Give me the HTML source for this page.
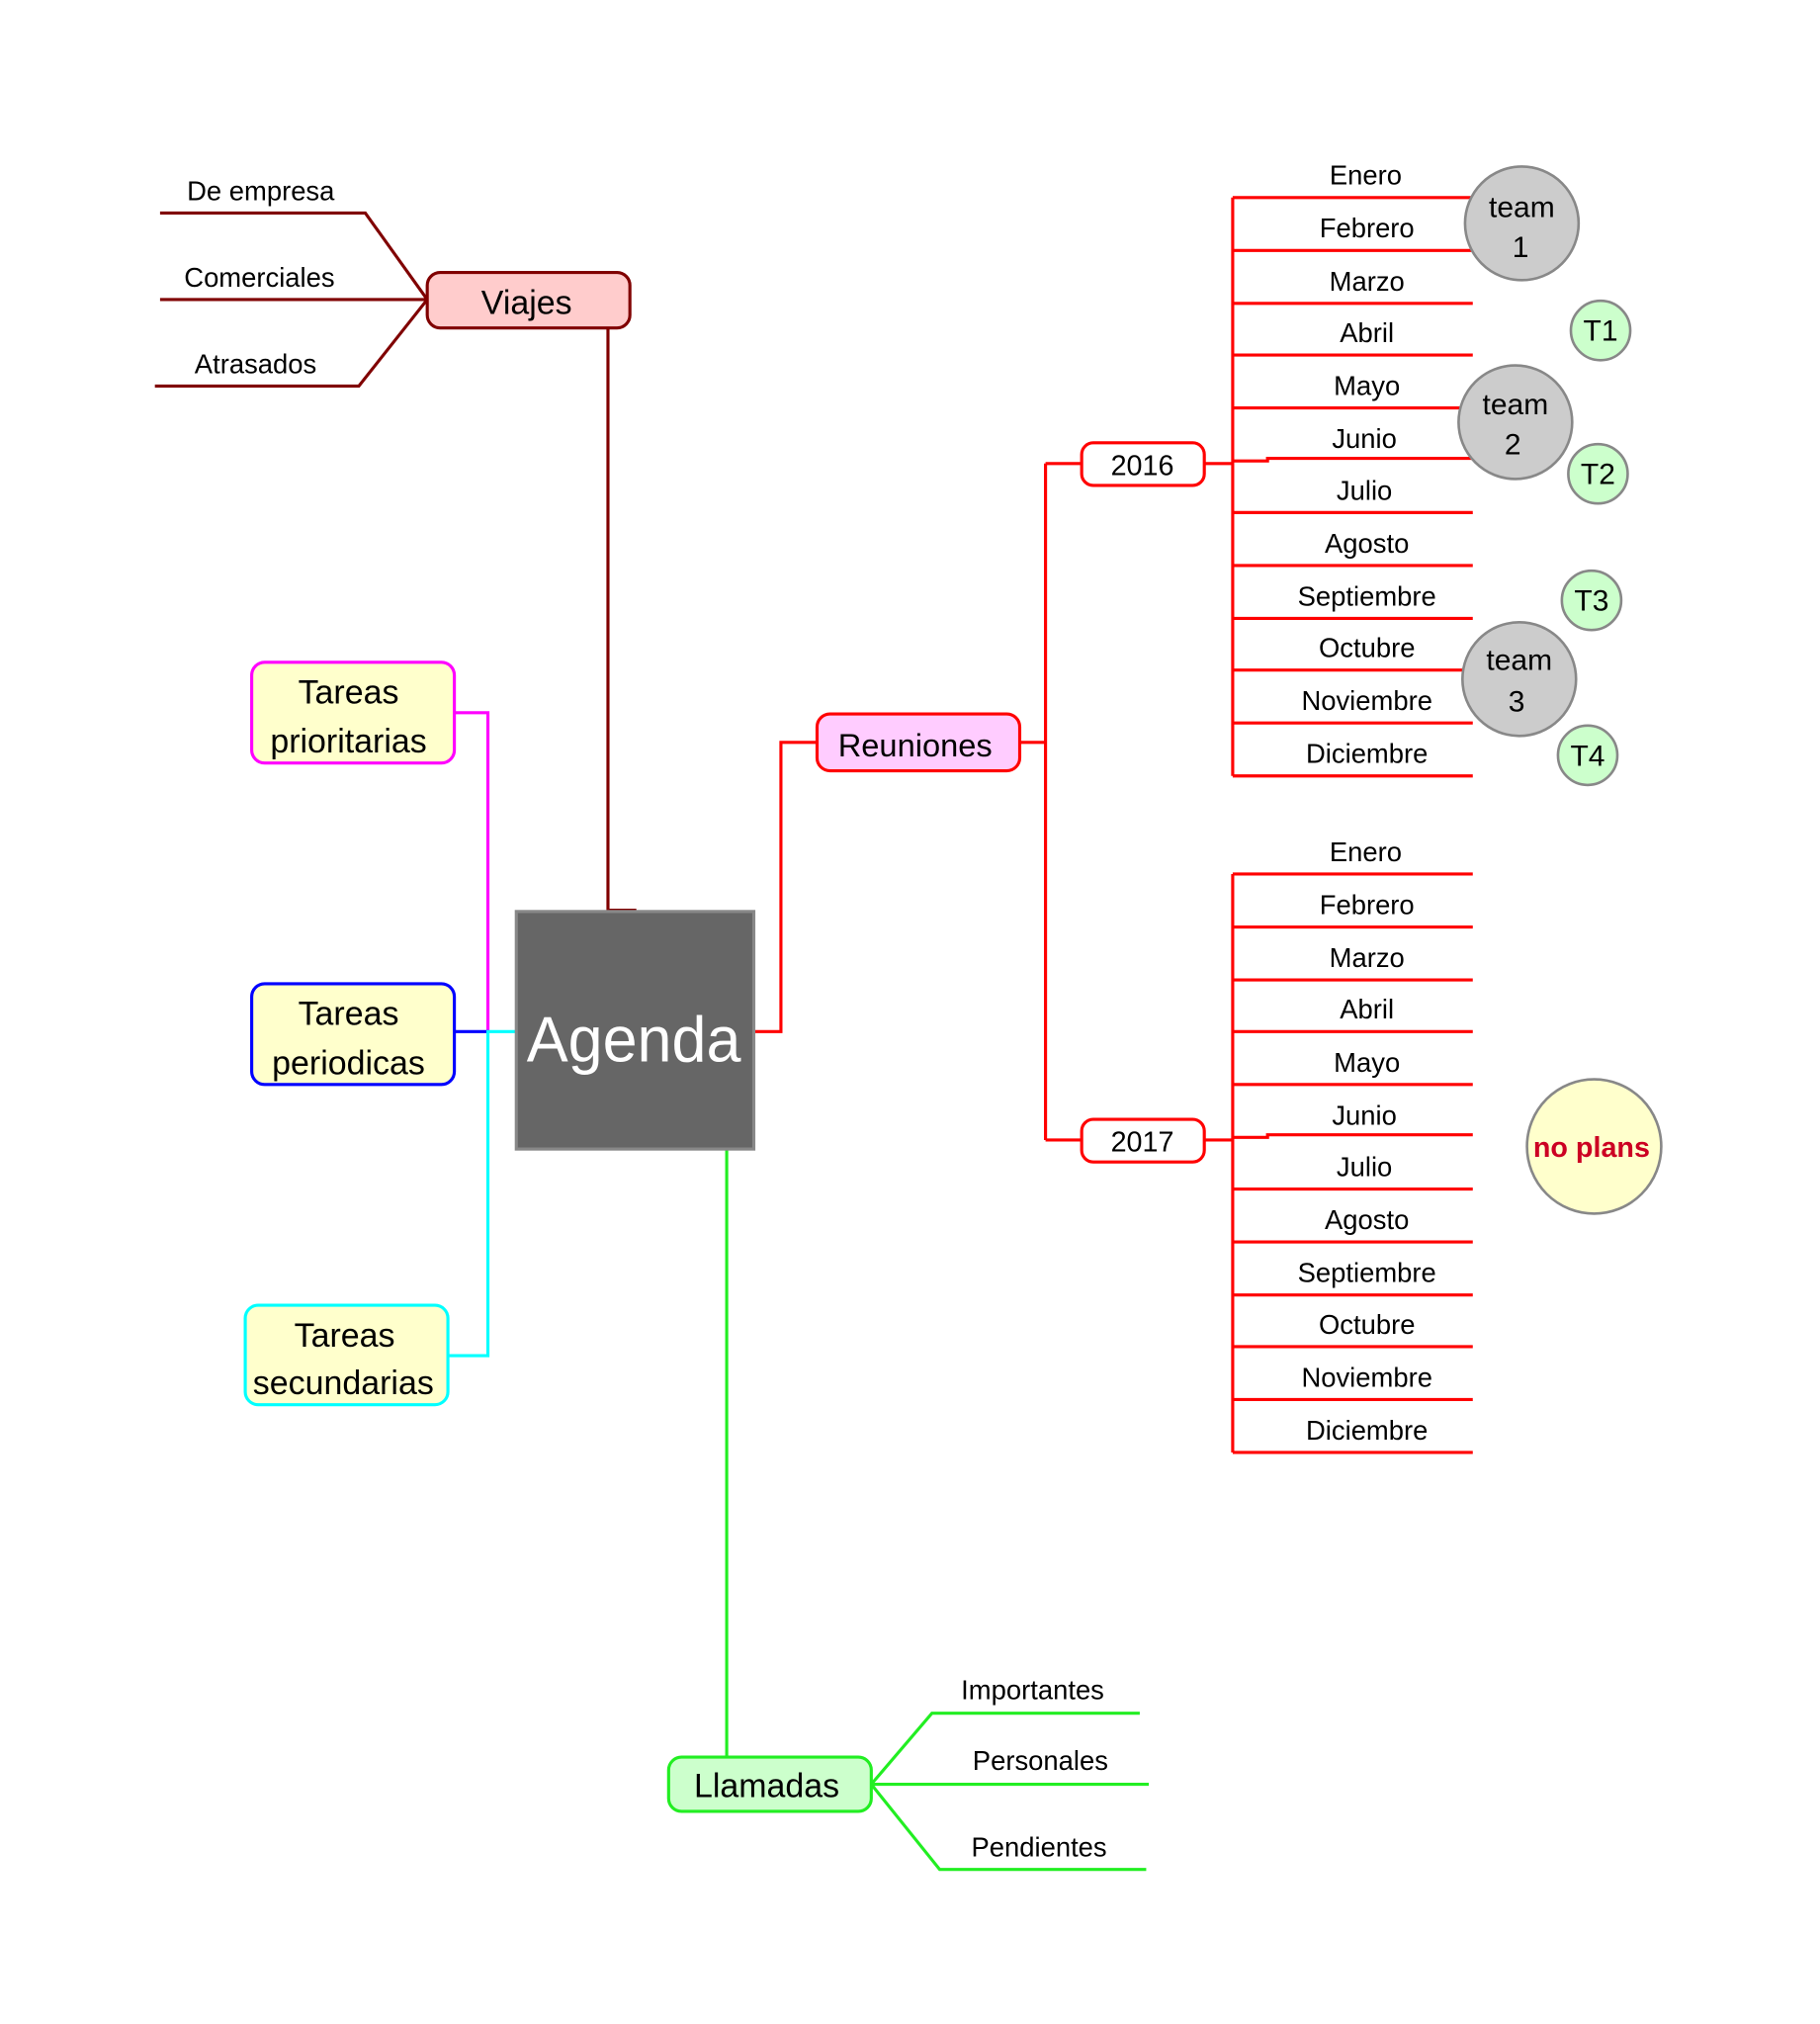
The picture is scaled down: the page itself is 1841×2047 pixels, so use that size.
<!DOCTYPE html>
<html><head><meta charset="utf-8"><style>
html,body{margin:0;padding:0;background:#fff;}
svg{display:block;}
text{font-family:"Liberation Sans",sans-serif;fill:#000;}
</style></head><body>
<svg width="1841" height="2047" viewBox="0 0 1410 1567.7" preserveAspectRatio="none" xmlns="http://www.w3.org/2000/svg">
<g fill="none" stroke-width="2.4">
<g stroke="#800000">
<path d="M124 165H283L331 232M124 232H331M120 299H278L331 232"/>
<path d="M471 254V705H493"/>
</g>
<rect x="331" y="211" width="157" height="43" rx="10" fill="#ffcccc" stroke="#800000"/>
<g stroke="#ff0000">
<path d="M584 799H605V575H633"/>
<path d="M790 575H810M810 359V883M810 359H838M810 883H838"/>
<path d="M933 359H955M933 883H955"/>
<path d="M955 153V601M955 677V1125"/>
<path d="M955 153H1141M955 194H1141M955 235H1141M955 275H1141M955 316H1141M955 357H982V355H1141M955 397H1141M955 438H1141M955 479H1141M955 519H1141M955 560H1141M955 601H1141"/>
<path d="M955 677H1141M955 718H1141M955 759H1141M955 799H1141M955 840H1141M955 881H982V879H1141M955 921H1141M955 962H1141M955 1003H1141M955 1043H1141M955 1084H1141M955 1125H1141"/>
</g>
<rect x="633" y="553" width="157" height="44" rx="10" fill="#ffccff" stroke="#ff0000"/>
<rect x="838" y="343" width="95" height="33" rx="9" fill="#fff" stroke="#ff0000"/>
<rect x="838" y="867" width="95" height="33" rx="9" fill="#fff" stroke="#ff0000"/>
<path d="M352 552H378V799" stroke="#ff00ff"/>
<path d="M352 799H378" stroke="#0000ff"/>
<path d="M347 1050H378V799H400" stroke="#00ffff"/>
<rect x="195" y="513" width="157" height="78" rx="10" fill="#ffffcc" stroke="#ff00ff"/>
<rect x="195" y="762" width="157" height="78" rx="10" fill="#ffffcc" stroke="#0000ff"/>
<rect x="190" y="1011" width="157" height="77" rx="10" fill="#ffffcc" stroke="#00ffff"/>
<g stroke="#22ee22">
<path d="M563 890V1361"/>
<path d="M675 1382L722 1327H883M675 1382H890M675 1382L728 1448H888"/>
</g>
<rect x="518" y="1361" width="157" height="42" rx="10" fill="#ccffcc" stroke="#22ee22"/>
<rect x="400" y="706" width="184" height="184" fill="#666666" stroke="#888"/>
<g stroke="#888" stroke-width="2">
<circle cx="1179" cy="173" r="44" fill="#cccccc"/>
<circle cx="1174" cy="327" r="44" fill="#cccccc"/>
<circle cx="1177" cy="526" r="44" fill="#cccccc"/>
<circle cx="1240" cy="256" r="23" fill="#ccffcc"/>
<circle cx="1238" cy="367" r="23" fill="#ccffcc"/>
<circle cx="1233" cy="465" r="23" fill="#ccffcc"/>
<circle cx="1230" cy="585" r="23" fill="#ccffcc"/>
<circle cx="1235" cy="888" r="52" fill="#ffffcc"/>
</g>
</g>
<g text-anchor="middle">
<text x="202" y="155" font-size="21">De empresa</text>
<text x="201" y="222" font-size="21">Comerciales</text>
<text x="198" y="289" font-size="21">Atrasados</text>
<text x="408" y="243" font-size="26">Viajes</text>
<text x="709" y="586" font-size="25">Reuniones</text>
<text x="885" y="368" font-size="22">2016</text>
<text x="885" y="892" font-size="22">2017</text>
<text x="491" y="822" font-size="50" textLength="166" lengthAdjust="spacingAndGlyphs" style="fill:#fff">Agenda</text>
<text x="270" y="545" font-size="26">Tareas</text>
<text x="270" y="583" font-size="26">prioritarias</text>
<text x="270" y="794" font-size="26">Tareas</text>
<text x="270" y="832" font-size="26">periodicas</text>
<text x="267" y="1043" font-size="26">Tareas</text>
<text x="266" y="1080" font-size="26">secundarias</text>
<text x="594" y="1392" font-size="26">Llamadas</text>
<text x="800" y="1316" font-size="21">Importantes</text>
<text x="806" y="1371" font-size="21">Personales</text>
<text x="805" y="1438" font-size="21">Pendientes</text>
<g font-size="21">
<text x="1058" y="143">Enero</text>
<text x="1059" y="184">Febrero</text>
<text x="1059" y="225">Marzo</text>
<text x="1059" y="265">Abril</text>
<text x="1059" y="306">Mayo</text>
<text x="1057" y="347">Junio</text>
<text x="1057" y="387">Julio</text>
<text x="1059" y="428">Agosto</text>
<text x="1059" y="469">Septiembre</text>
<text x="1059" y="509">Octubre</text>
<text x="1059" y="550">Noviembre</text>
<text x="1059" y="591">Diciembre</text>
<text x="1058" y="667">Enero</text>
<text x="1059" y="708">Febrero</text>
<text x="1059" y="749">Marzo</text>
<text x="1059" y="789">Abril</text>
<text x="1059" y="830">Mayo</text>
<text x="1057" y="871">Junio</text>
<text x="1057" y="911">Julio</text>
<text x="1059" y="952">Agosto</text>
<text x="1059" y="993">Septiembre</text>
<text x="1059" y="1033">Octubre</text>
<text x="1059" y="1074">Noviembre</text>
<text x="1059" y="1115">Diciembre</text>
</g>
<g font-size="23">
<text x="1179" y="168">team</text><text x="1178" y="199">1</text>
<text x="1174" y="321">team</text><text x="1172" y="352">2</text>
<text x="1177" y="519">team</text><text x="1175" y="551">3</text>
<text x="1240" y="264">T1</text>
<text x="1238" y="375">T2</text>
<text x="1233" y="473">T3</text>
<text x="1230" y="593">T4</text>
</g>
<text x="1233" y="896" font-size="22" font-weight="bold" style="fill:#cc0022">no plans</text>
</g>
</svg>
</body></html>
